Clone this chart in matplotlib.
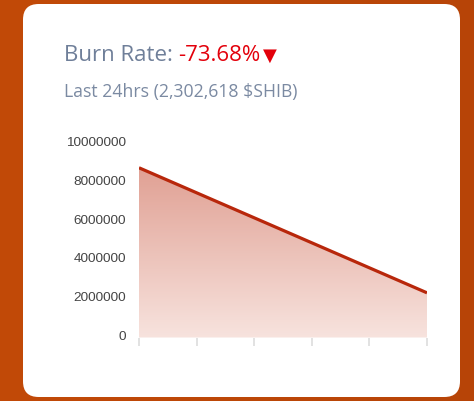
import matplotlib

matplotlib.use("Agg")
import matplotlib.pyplot as plt  # noqa: E402
import matplotlib.transforms as mtrans  # noqa: E402
import numpy as np  # noqa: E402
from matplotlib.patches import FancyBboxPatch, Polygon  # noqa: E402

# data
burn_values = [8748548, 2302618]        # previous 24hrs -> last 24hrs
burn_pos = [0, 1]
y_ticks = [0, 2000000, 4000000, 6000000, 8000000, 10000000]
x_ticks = [0, 0.2, 0.4, 0.6, 0.8, 1.0]
title_main = "Burn Rate:"
title_rate = "-73.68%"
subtitle = "Last 24hrs (2,302,618 $SHIB)"

W, H = 474, 401
fig = plt.figure(figsize=(W / 100, H / 100), dpi=100)
fig.patch.set_facecolor("#c04a06")

# orange background gradient
bg = fig.add_axes([0, 0, 1, 1])
grad = np.linspace(0, 1, 256).reshape(1, -1)
bg.imshow(np.dstack([0.76 - 0.04 * grad, 0.29 - 0.02 * grad, 0.03 + 0 * grad]),
          aspect="auto", extent=[0, 1, 0, 1])
bg.set_xlim(0, 1)
bg.set_ylim(0, 1)
bg.axis("off")

# white card
card = FancyBboxPatch((23 / W, 4 / H), (460 - 23) / W, (397 - 4) / H,
                      boxstyle="round,pad=0,rounding_size=0.033",
                      transform=bg.transAxes, facecolor="white",
                      edgecolor="none", mutation_aspect=W / H)
bg.add_patch(card)

# heading texts, chained one after the other
renderer = fig.canvas.get_renderer()
t1 = fig.text(64 / W, 1 - 61 / H, title_main, fontsize=16, family="Open Sans",
              color="#6f7f99", va="baseline")
x_end = t1.get_window_extent(renderer).x1
t2 = fig.text((x_end + 5) / W, 1 - 61 / H, title_rate, fontsize=16,
              family="Open Sans", color="#e3000b", va="baseline")
x_end = t2.get_window_extent(renderer).x1
fig.text((x_end + 3) / W, 1 - 61 / H, "\u25bc", fontsize=13, family="DejaVu Sans",
         color="#e3000b", va="baseline")
fig.text(64 / W, 1 - 96.5 / H, subtitle, fontsize=12.7, family="Open Sans",
         color="#7b8aa2", va="baseline")

# chart
ax = fig.add_axes([139 / W, 1 - 337.5 / H, 288 / W, 194 / H])
ax.patch.set_alpha(0)

# gradient area under the line
top_c = np.array([0.88, 0.63, 0.58])
bot_c = np.array([0.97, 0.89, 0.87])
t = np.linspace(0, 1, 256).reshape(-1, 1, 1)
img = bot_c + (top_c - bot_c) * t
im = ax.imshow(img, aspect="auto", origin="lower",
               extent=[0, 1, 0, max(burn_values)], zorder=1)
poly = Polygon([(burn_pos[0], 0)] + list(zip(burn_pos, burn_values)) +
               [(burn_pos[-1], 0)], closed=True, transform=ax.transData,
               facecolor="none", edgecolor="none")
ax.add_patch(poly)
im.set_clip_path(poly)
ax.set_xlim(0, 1)
ax.set_ylim(0, 10000000)

ax.plot(burn_pos, burn_values, color="#b8270b", linewidth=2.3,
        solid_capstyle="butt", zorder=3)

for s in ax.spines.values():
    s.set_visible(False)
ax.set_yticks(y_ticks)
ax.set_yticklabels([str(v) for v in y_ticks])
ax.set_xticks(x_ticks)
ax.set_xticklabels([])
ax.tick_params(axis="y", length=0, pad=9.5, labelsize=9.7, labelcolor="#444444")
ax.tick_params(axis="x", length=6, width=1.2, color="#dddddd", pad=0)
shift = mtrans.ScaledTranslation(0, 2 / 100, fig.dpi_scale_trans)
for lab in ax.get_yticklabels():
    lab.set_family("Liberation Sans")
    lab.set_transform(lab.get_transform() + shift)

fig.savefig("out.png", dpi=100)
